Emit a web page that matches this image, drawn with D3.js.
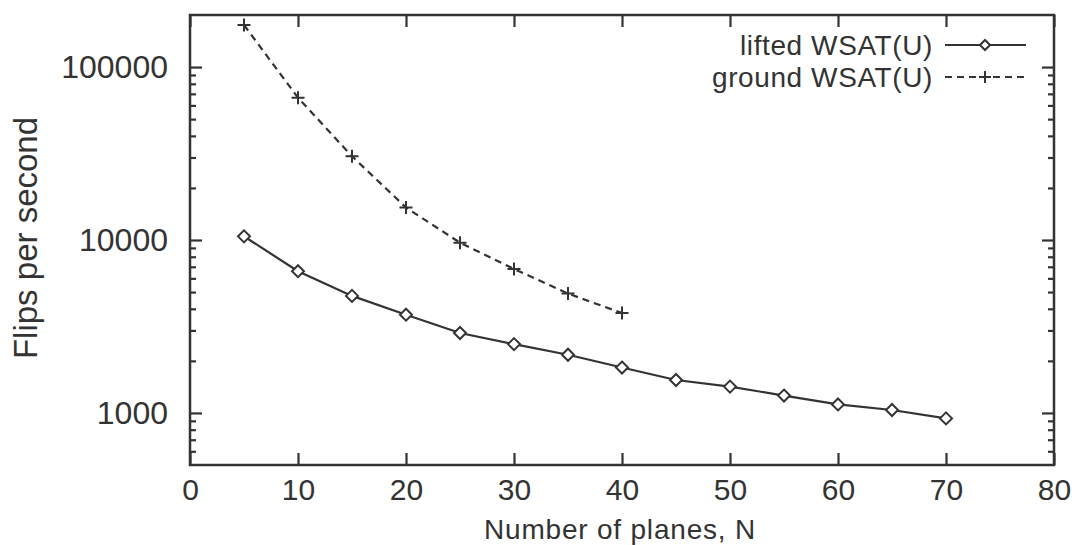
<!DOCTYPE html>
<html>
<head>
<meta charset="utf-8">
<script src="https://cdn.jsdelivr.net/npm/d3@7"></script>
<style>
  body { margin: 0; background: #fff; }
  text { font-family: "Liberation Sans", Arial, sans-serif; fill: #333; }
</style>
</head>
<body>
<div id="chart"></div>
<script>
/* Flips per second vs number of planes (log scale) */

const planesLifted = [5, 10, 15, 20, 25, 30, 35, 40, 45, 50, 55, 60, 65, 70];
const flipsLifted = [10500, 6600, 4750, 3700, 2900, 2500, 2170, 1830, 1550, 1420, 1260, 1120, 1040, 930];

const planesGround = [5, 10, 15, 20, 25, 30, 35, 40];
const flipsGround = [175000, 66500, 30500, 15400, 9650, 6800, 4900, 3780];

const xTicks = [0, 10, 20, 30, 40, 50, 60, 70, 80];
const yTicks = [1000, 10000, 100000];

const width = 1076,
    height = 545,
    margin = ({top: 15, right: 22, bottom: 80, left: 190});

const ink = "#333";

let svg = d3.select("#chart")
    .append("svg")
    .attr("width", width)
    .attr("height", height);

let x = d3.scaleLinear()
    .domain([0, 80])
    .range([margin.left, width - margin.right]);

let y = d3.scaleLog()
    .domain([500, 200000])
    .range([height - margin.bottom, margin.top]);

// minor ticks for log axis
let minor = [];
for (let dec of [100, 1000, 10000, 100000]) {
    for (let k = 2; k <= 9; k++) {
        let v = dec * k;
        if (v > 500 && v < 200000) minor.push(v);
    }
}

const xAxis = g => g
    .attr("transform", `translate(0,${height - margin.bottom})`)
    .call(d3.axisBottom(x).tickValues(xTicks).tickSize(-12).tickPadding(14).tickSizeOuter(0));

const xAxisTop = g => g
    .attr("transform", `translate(0,${margin.top})`)
    .call(d3.axisTop(x).tickValues(xTicks).tickSize(-12).tickFormat("").tickSizeOuter(0));

const yAxis = g => g
    .attr("transform", `translate(${margin.left},0)`)
    .call(d3.axisLeft(y).tickValues(yTicks).tickFormat(d3.format("d")).tickSize(-12).tickPadding(22).tickSizeOuter(0));

const yAxisRight = g => g
    .attr("transform", `translate(${width - margin.right},0)`)
    .call(d3.axisRight(y).tickValues(yTicks).tickFormat("").tickSize(-12).tickSizeOuter(0));

const yMinorL = g => g
    .attr("transform", `translate(${margin.left},0)`)
    .call(d3.axisLeft(y).tickValues(minor).tickFormat("").tickSize(-6).tickSizeOuter(0));

const yMinorR = g => g
    .attr("transform", `translate(${width - margin.right},0)`)
    .call(d3.axisRight(y).tickValues(minor).tickFormat("").tickSize(-6).tickSizeOuter(0));

for (let ax of [xAxis, xAxisTop, yAxis, yAxisRight, yMinorL, yMinorR]) {
    let g = svg.append("g").call(ax);
    g.select(".domain").remove();
    g.selectAll("line").attr("stroke", ink).attr("stroke-width", 2.2);
    g.selectAll("text")
        .style("font-size", ax === yAxis ? "32px" : "30px")
        .attr("fill", ink);
}

// frame
svg.append("rect")
    .attr("x", margin.left)
    .attr("y", margin.top)
    .attr("width", width - margin.left - margin.right)
    .attr("height", height - margin.top - margin.bottom)
    .attr("fill", "none")
    .attr("stroke", ink)
    .attr("stroke-width", 2.5);

// axis titles
svg.append("text")
    .attr("x", 620)
    .attr("y", 539)
    .attr("text-anchor", "middle")
    .style("font-size", "28px")
    .style("letter-spacing", "0.8px")
    .text("Number of planes, N");

svg.append("text")
    .attr("transform", "translate(37,238) rotate(-90)")
    .attr("text-anchor", "middle")
    .style("font-size", "33px")
    .text("Flips per second");

// lines
const line = d3.line().x(d => x(d[0])).y(d => y(d[1]));

const lifted = d3.zip(planesLifted, flipsLifted);
const ground = d3.zip(planesGround, flipsGround);

svg.append("path")
    .datum(ground)
    .attr("d", line)
    .attr("fill", "none")
    .attr("stroke", ink)
    .attr("stroke-width", 2.2)
    .attr("stroke-dasharray", "7,5");

svg.append("path")
    .datum(lifted)
    .attr("d", line)
    .attr("fill", "none")
    .attr("stroke", ink)
    .attr("stroke-width", 2.2);

const diamond = (cx, cy, r) => `M${cx},${cy - r}L${cx + r},${cy}L${cx},${cy + r}L${cx - r},${cy}Z`;
const plus = (cx, cy, r) => `M${cx - r},${cy}H${cx + r}M${cx},${cy - r}V${cy + r}`;

svg.selectAll(".lift")
    .data(lifted)
    .join("path")
    .attr("class", "lift")
    .attr("d", d => diamond(x(d[0]), y(d[1]), 6))
    .attr("fill", "#fff")
    .attr("stroke", ink)
    .attr("stroke-width", 2);

svg.selectAll(".gnd")
    .data(ground)
    .join("path")
    .attr("class", "gnd")
    .attr("d", d => plus(x(d[0]), y(d[1]), 6.5))
    .attr("fill", "none")
    .attr("stroke", ink)
    .attr("stroke-width", 2);

// legend
const legend = [
    {label: "lifted WSAT(U)", y: 45, dash: null, mark: "diamond"},
    {label: "ground WSAT(U)", y: 77, dash: "7,5", mark: "plus"}
];

for (let item of legend) {
    svg.append("text")
        .attr("x", 933)
        .attr("y", item.y)
        .attr("dy", "0.35em")
        .attr("text-anchor", "end")
        .style("font-size", "28px")
        .style("letter-spacing", "0.6px")
        .text(item.label);

    svg.append("line")
        .attr("x1", 945).attr("x2", 1026)
        .attr("y1", item.y).attr("y2", item.y)
        .attr("stroke", ink)
        .attr("stroke-width", 2.2)
        .attr("stroke-dasharray", item.dash);

    svg.append("path")
        .attr("d", item.mark === "diamond" ? diamond(985, item.y, 5) : plus(985, item.y, 6))
        .attr("fill", "#fff")
        .attr("stroke", ink)
        .attr("stroke-width", 2);
}
</script>
</body>
</html>
